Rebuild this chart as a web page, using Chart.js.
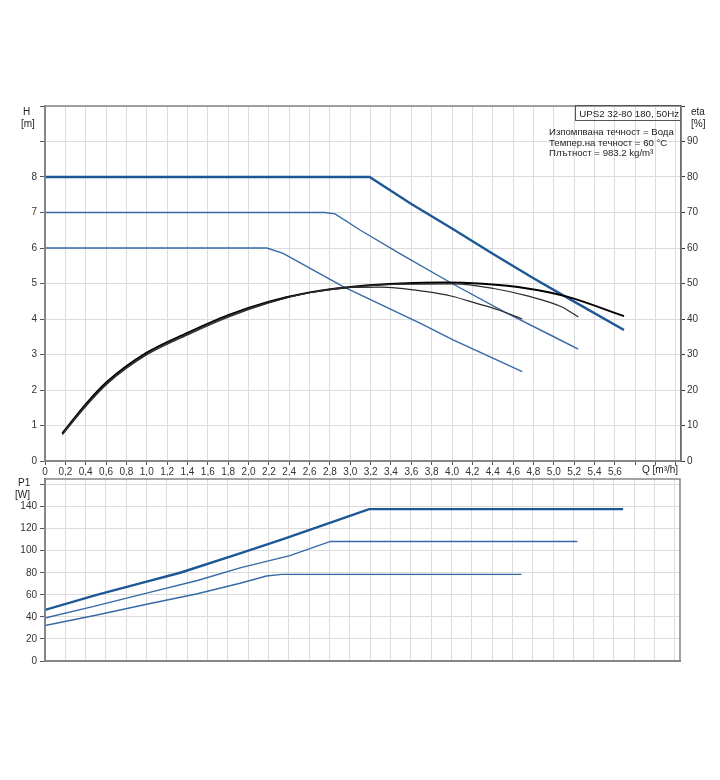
<!DOCTYPE html>
<html>
<head>
<meta charset="utf-8">
<script src="https://cdn.jsdelivr.net/npm/chart.js@4.4.0/dist/chart.umd.min.js"></script>
<style>
  body { margin: 0; background: #fff; font-family: "Liberation Sans", Arial, sans-serif; color: #222; }
  #page { position: relative; width: 720px; height: 780px; }
  .wrap { position: absolute; left: 0; width: 720px; }
  .lbl { position: absolute; font-size: 10px; line-height: 12px; color: #222; white-space: nowrap; }
  .info { position: absolute; left: 549px; font-size: 9.6px; line-height: 10.3px; color: #222; white-space: nowrap; }
  .title { position: absolute; right: 39px; top: 105px; height: 16px; padding: 0 2px 0 3px; border: 1px solid #555;
           border-right: none; font-size: 9.7px; line-height: 15px; color: #222; white-space: nowrap; box-sizing: border-box; }
</style>
</head>
<body>
<div id="page">
  <div class="wrap" style="top:96px;height:380px"><canvas id="chart-h"></canvas></div>
  <div class="wrap" style="top:470px;height:200px"><canvas id="chart-p"></canvas></div>

  <div class="lbl" style="left:23px;top:106px">H</div>
  <div class="lbl" style="left:21px;top:118px">[m]</div>
  <div class="lbl" style="left:691px;top:106px">eta</div>
  <div class="lbl" style="left:691px;top:118px">[%]</div>
  <div class="lbl" style="left:18px;top:477px">P1</div>
  <div class="lbl" style="left:15px;top:489px">[W]</div>
  <div class="lbl" style="left:642px;top:464px">Q [m³/h]</div>

  <div class="title">UPS2 32-80 180, 50Hz</div>
  <div class="info" style="top:127px">Изпомпвана течност = Вода</div>
  <div class="info" style="top:137.5px">Темпер.на течност = 60 °C</div>
  <div class="info" style="top:147.5px">Плътност = 983.2 kg/m³</div>
</div>

<script>
/* --- data --- */
var xTicks = [0,0.2,0.4,0.6,0.8,1.0,1.2,1.4,1.6,1.8,2.0,2.2,2.4,2.6,2.8,3.0,3.2,3.4,3.6,3.8,4.0,4.2,4.4,4.6,4.8,5.0,5.2,5.4,5.6,5.8,6.0,6.2];
var hTicks = [0,1,2,3,4,5,6,7,8,9,10];
var etaTicks = [0,10,20,30,40,50,60,70,80,90,100];
var pTicks = [0,20,40,60,80,100,120,140,160];

// head curves H [m]
var qHMax = [0, 3.19, 3.6, 4.0, 4.4, 4.8, 5.2, 5.69];
var hMax  = [8, 8, 7.24, 6.55, 5.84, 5.15, 4.49, 3.69];
var qHMid = [0, 2.75, 2.85, 3.1, 3.5, 4.0, 4.5, 5.0, 5.24];
var hMid  = [7, 7, 6.96, 6.5, 5.82, 5.0, 4.22, 3.5, 3.15];
var qHLow = [0, 2.18, 2.34, 2.93, 3.1, 3.69, 4.01, 4.69];
var hLow  = [6, 6, 5.85, 4.91, 4.68, 3.88, 3.41, 2.52];

// efficiency curves eta [%]
var qEtaMax = [0.17, 0.41, 0.61, 1.0, 1.4, 1.8, 2.2, 2.6, 3.1, 3.5, 3.92, 4.3, 4.74, 5.13, 5.69];
var etaMax  = [7.8, 16.3, 22.3, 30.5, 36.1, 41.1, 44.9, 47.5, 49.3, 50.0, 50.3, 49.9, 48.6, 46.3, 40.8];
var qEtaMid = [0.17, 0.41, 0.61, 1.0, 1.4, 1.8, 2.2, 2.6, 3.1, 3.5, 4.02, 4.41, 4.74, 5.07, 5.24];
var etaMid  = [7.6, 16.0, 22.0, 30.2, 35.8, 40.8, 44.7, 47.4, 49.2, 49.8, 49.9, 48.6, 46.5, 43.5, 40.6];
var qEtaLow = [0.17, 0.41, 0.61, 1.0, 1.4, 1.8, 2.2, 2.6, 3.0, 3.29, 3.75, 4.0, 4.24, 4.45, 4.69];
var etaLow  = [7.4, 15.7, 21.7, 29.9, 35.5, 40.5, 44.5, 47.4, 48.9, 49.0, 47.7, 46.4, 44.4, 42.6, 40.0];

// power curves P1 [W]
var qPMax = [0, 0.5, 1.0, 1.33, 1.92, 2.35, 2.81, 3.19, 5.69];
var pMax  = [46.3, 59.7, 72, 80, 97.5, 110.7, 125.4, 137.7, 137.7];
var qPMid = [0, 0.5, 1.0, 1.5, 1.92, 2.41, 2.81, 5.24];
var pMid  = [38.9, 50, 61.5, 73, 84.4, 95.5, 108.4, 108.4];
var qPLow = [0, 0.5, 1.0, 1.5, 1.92, 2.18, 2.33, 4.69];
var pLow  = [32.2, 41.5, 51.5, 61, 70.5, 77.1, 78.5, 78.5];

/* --- styling --- */
var BLUE_DARK = '#1d5796';
var BLUE      = '#3669a6';
var BLACK     = '#000000';
var GREY_LN   = '#2a2a2a';
var GRID      = '#dcdcdc';
var AXIS      = '#858585';
var TICKS     = '#333333';
var FONT      = { family: '"Liberation Sans", Arial, sans-serif', size: 10 };

function pts(xs, ys) {
  return xs.map(function(x, i) { return { x: x, y: ys[i] }; });
}

function line(xs, ys, color, width, axis, smooth) {
  return {
    data: pts(xs, ys),
    borderColor: color,
    borderWidth: width,
    showLine: true,
    pointRadius: 0,
    tension: smooth ? 0.4 : 0,
    cubicInterpolationMode: smooth ? 'monotone' : 'default',
    yAxisID: axis || 'y'
  };
}

function fixedTicks(list) {
  return function(scale) {
    scale.ticks = list.map(function(v) { return { value: v }; });
  };
}

var frame = {
  id: 'frame',
  afterDraw: function(chart) {
    var a = chart.chartArea, c = chart.ctx;
    c.save();
    c.strokeStyle = AXIS;
    c.lineWidth = 1.5;
    c.strokeRect(a.left, a.top, a.right - a.left, a.bottom - a.top);
    c.restore();
  }
};

Chart.defaults.animation = false;
Chart.defaults.plugins.legend.display = false;
Chart.defaults.plugins.tooltip.enabled = false;

/* --- Chart 1: H / eta --- */
new Chart(document.getElementById('chart-h'), {
  type: 'scatter',
  data: {
    datasets: [
      line(qEtaLow, etaLow, GREY_LN, 1.2, 'y2', true),
      line(qEtaMid, etaMid, GREY_LN, 1.2, 'y2', true),
      line(qEtaMax, etaMax, BLACK, 2, 'y2', true),
      line(qHLow, hLow, BLUE, 1.4),
      line(qHMid, hMid, BLUE, 1.4),
      line(qHMax, hMax, BLUE_DARK, 2.4)
    ]
  },
  options: {
    responsive: true,
    maintainAspectRatio: false,
    layout: { padding: { top: 10, left: 0, right: 0, bottom: 0 } },
    scales: {
      x: {
        type: 'linear', min: 0, max: 6.25,
        afterBuildTicks: fixedTicks(xTicks),
        afterFit: function(s) { s.height = 15; },
        grid: { color: GRID, tickColor: '#555', tickLength: 4 },
        border: { color: AXIS, width: 2 },
        ticks: {
          autoSkip: false, maxRotation: 0, padding: 1, color: TICKS, font: FONT,
          callback: function(v) { return v > 5.7 ? '' : (v === 0 ? '0' : v.toFixed(1).replace('.', ',')); }
        }
      },
      y: {
        position: 'left', min: 0, max: 10,
        afterBuildTicks: fixedTicks(hTicks),
        afterFit: function(s) { s.width = 45; },
        grid: { color: GRID, tickColor: '#555', tickLength: 5 },
        border: { color: AXIS, width: 2 },
        ticks: {
          padding: 3, color: TICKS, font: FONT,
          callback: function(v) { return v <= 8 ? String(v) : ''; }
        }
      },
      y2: {
        position: 'right', min: 0, max: 100,
        afterBuildTicks: fixedTicks(etaTicks),
        afterFit: function(s) { s.width = 39; },
        grid: { drawOnChartArea: false, tickColor: '#333', tickLength: 4 },
        border: { color: '#222', width: 1.5 },
        ticks: {
          padding: 2, color: TICKS, font: FONT,
          callback: function(v) { return v <= 90 ? String(v) : ''; }
        }
      }
    }
  },
  plugins: [frame]
});

/* --- Chart 2: P1 --- */
new Chart(document.getElementById('chart-p'), {
  type: 'scatter',
  data: {
    datasets: [
      line(qPLow, pLow, BLUE, 1.4),
      line(qPMid, pMid, BLUE, 1.4),
      line(qPMax, pMax, BLUE_DARK, 2.4)
    ]
  },
  options: {
    responsive: true,
    maintainAspectRatio: false,
    layout: { padding: { top: 8, left: 0, right: 40, bottom: 0 } },
    scales: {
      x: {
        type: 'linear', min: 0, max: 6.25,
        afterBuildTicks: fixedTicks(xTicks),
        afterFit: function(s) { s.height = 4; },
        grid: { color: GRID, drawTicks: false },
        border: { color: AXIS, width: 2 },
        ticks: { display: false }
      },
      y: {
        position: 'left', min: 0, max: 165,
        afterBuildTicks: fixedTicks(pTicks),
        afterFit: function(s) { s.width = 45; },
        grid: { color: GRID, tickColor: '#555', tickLength: 5 },
        border: { color: AXIS, width: 2 },
        ticks: {
          padding: 3, color: TICKS, font: FONT,
          callback: function(v) { return v <= 140 ? String(v) : ''; }
        }
      }
    }
  },
  plugins: [frame]
});
</script>
</body>
</html>
